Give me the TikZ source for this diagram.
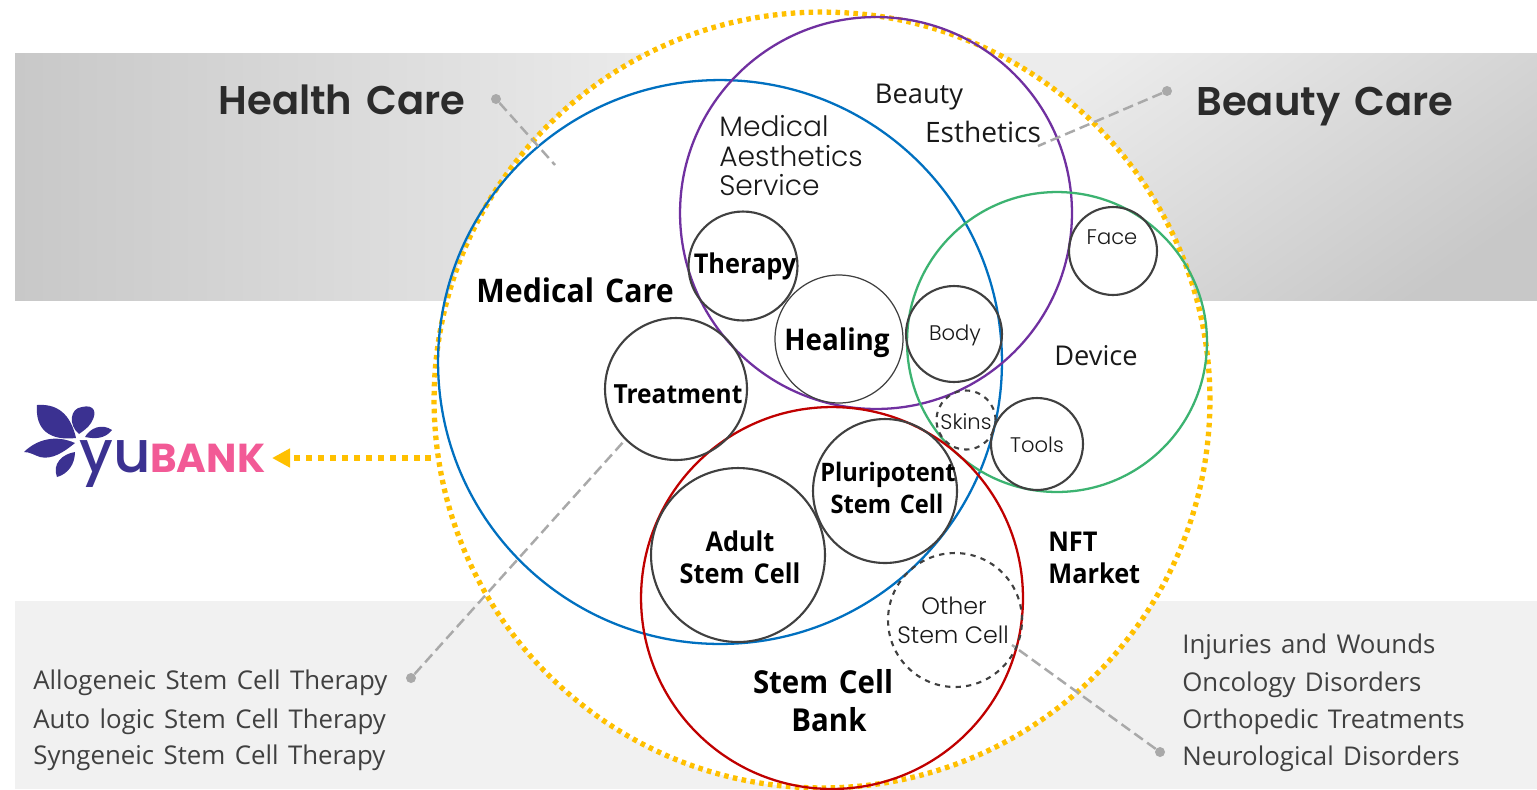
\documentclass[tikz,border=0pt]{standalone}
\usepackage{fontspec}
\usepackage{tikz}
\usetikzlibrary{arrows.meta}
\setmainfont{Open Sans}[WordSpace=1.4,BoldFeatures={FakeStretch=0.93}]
\newfontfamily\gothicfont{Poppins SemiBold}[WordSpace=1.5]
\newfontfamily\gothiclight{Poppins Light}
\newfontfamily\logofont{Poppins Medium}
\newfontfamily\logobold{Poppins}
\definecolor{bandlight}{HTML}{ECECEC}
\definecolor{bandmid}{HTML}{DDDDDD}
\definecolor{banddark}{HTML}{C8C8C8}
\definecolor{bandlow}{HTML}{F1F1F1}
\definecolor{dotgold}{HTML}{FFC000}
\definecolor{careblue}{HTML}{0070C0}
\definecolor{beautypurple}{HTML}{7030A0}
\definecolor{devicegreen}{HTML}{3CB371}
\definecolor{bankred}{HTML}{C00000}
\definecolor{ringgray}{HTML}{404040}
\definecolor{leadgray}{HTML}{A9A9A9}
\definecolor{logopurple}{HTML}{3B3191}
\definecolor{logopink}{HTML}{F25A96}
\tikzset{
    ring/.style={circle,draw=ringgray,line width=1.2pt,inner sep=0pt,outer sep=0pt},
    bigring/.style={ring,line width=1.3pt},
    dashring/.style={ring,dashed},
    leader/.style={draw=leadgray,line width=1.4pt,dash pattern=on 6pt off 3pt},
    leaddot/.style={circle,fill=leadgray,inner sep=0pt,minimum size=0.2cm},
    heading/.style={anchor=base,font=\gothicfont\fontsize{22.8}{24}\selectfont,text=black!83},
    boldlab/.style={anchor=base,font=\bfseries\fontsize{15.5}{16}\selectfont,text=black},
    thinlab/.style={anchor=base,font=\fontsize{15.5}{16}\selectfont,text=black!90},
    gothlab/.style={anchor=base,inner sep=0pt,font=\gothiclight\fontsize{16}{16}\selectfont,text=black!90},
    smallgoth/.style={anchor=base,font=\gothiclight\fontsize{12}{12}\selectfont,text=black!90},
    listlab/.style={anchor=base west,inner sep=0pt,font=\fontsize{14.7}{16}\selectfont,text=black!75},
    petal/.style={fill=logopurple,draw=none}
}
\begin{document}
\begin{tikzpicture}[x=0.02cm,y=-0.02cm]
    \useasboundingbox (0,0) rectangle (1537,789);
    % bands
    \shade[left color=banddark,middle color=bandmid,right color=bandlight] (15,53) rectangle (670,300);
    \shade[left color=bandlight,right color=banddark,shading angle=35] (985,53) rectangle (1537,300);
    \fill[bandlow] (15,601) rectangle (1537,789);
    % circles
    \node[circle,fill=white,draw=dotgold,line width=3pt,dash pattern=on 2.6pt off 2.5pt,inner sep=0pt,minimum size=15.52cm] (outer) at (822,400) {};
    \node[bigring,draw=careblue,minimum size=11.28cm] (medical) at (720,362) {};
    \node[bigring,draw=beautypurple,minimum size=7.84cm] (beauty) at (876,213) {};
    \node[bigring,draw=devicegreen,minimum size=6cm] (device) at (1057,342) {};
    \node[bigring,draw=bankred,minimum size=7.64cm] (bank) at (832,598) {};
    \node[ring,minimum size=2.18cm] (therapy) at (743,266) {};
    \node[ring,line width=0.7pt,minimum size=2.56cm] (healing) at (839,339) {};
    \node[ring,minimum size=1.92cm] (body) at (954,334) {};
    \node[ring,minimum size=2.84cm] (treatment) at (676,389) {};
    \node[dashring,minimum size=1.18cm] (skins) at (966,420) {};
    \node[ring,minimum size=1.84cm] (tools) at (1037,444) {};
    \node[ring,minimum size=1.76cm] (face) at (1113,251) {};
    \node[ring,minimum size=2.88cm] (pluri) at (885,491) {};
    \node[ring,minimum size=3.48cm] (adult) at (738,555) {};
    \node[dashring,minimum size=2.68cm] (other) at (955,620) {};
    % big titles
    \node[heading] (healthT) at (342,114) {Health Care};
    \node[heading] (beautyT) at (1325,115) {Beauty Care};
    % labels
    \node[thinlab] (beautyL) at (919,103) {Beauty};
    \node[thinlab,font=\fontsize{16}{16}\selectfont] (estheL) at (983,142) {Esthetics};
    \node[gothlab,anchor=base west] (medL) at (719,136) {Medical};
    \node[gothlab,anchor=base west] (aesL) at (719,166) {Aesthetics};
    \node[gothlab,anchor=base west] (serL) at (719,195) {Service};
    \node[boldlab,font=\bfseries\fontsize{18.5}{18}\selectfont] (mcareL) at (575,302) {Medical Care};
    \node[boldlab] (therapyL) at (745,273) {Therapy};
    \node[boldlab,font=\bfseries\fontsize{17}{18}\selectfont] (healingL) at (837,350) {Healing};
    \node[boldlab,font=\bfseries\fontsize{15}{16}\selectfont] (treatL) at (678,403) {Treatment};
    \node[smallgoth] (bodyL) at (955,340) {Body};
    \node[smallgoth] (faceL) at (1112,244) {Face};
    \node[smallgoth] (skinsL) at (966,429) {Skins};
    \node[smallgoth] (toolsL) at (1037,452) {Tools};
    \node[thinlab] (deviceL) at (1096,365) {Device};
    \node[boldlab,font=\bfseries\fontsize{14.5}{16}\selectfont] (pluriL) at (888,481) {Pluripotent};
    \node[boldlab,font=\bfseries\fontsize{14.5}{16}\selectfont] (pluriM) at (887,513) {Stem Cell};
    \node[boldlab] (adultL) at (740,551) {Adult};
    \node[boldlab] (adultM) at (740,583) {Stem Cell};
    \node[boldlab,anchor=base west,inner sep=0pt] (nftL) at (1048,551) {NFT};
    \node[boldlab,anchor=base west,inner sep=0pt] (nftM) at (1048,583) {Market};
    \node[gothlab,font=\gothiclight\fontsize{13.5}{14}\selectfont] (otherL) at (954,614) {Other};
    \node[gothlab,font=\gothiclight\fontsize{13.5}{14}\selectfont] (otherM) at (953,643) {Stem Cell};
    \node[boldlab,font=\bfseries\fontsize{18}{18}\selectfont] (scbL) at (823,693) {Stem Cell};
    \node[boldlab,font=\bfseries\fontsize{18}{18}\selectfont] (scbM) at (829,731) {Bank};
    % lists
    \node[listlab] (listA) at (33,689) {Allogeneic Stem Cell Therapy};
    \node[listlab] (listB) at (33,728) {Auto logic Stem Cell Therapy};
    \node[listlab] (listC) at (33,764) {Syngeneic Stem Cell Therapy};
    \node[listlab] (listD) at (1182,653) {Injuries and Wounds};
    \node[listlab] (listE) at (1182,691) {Oncology Disorders};
    \node[listlab] (listF) at (1182,728) {Orthopedic Treatments};
    \node[listlab] (listG) at (1182,765) {Neurological Disorders};
    % leaders
    \node[leaddot] (dotH) at (496,99) {};
    \node[leaddot] (dotB) at (1167,91) {};
    \node[leaddot] (dotT) at (411,678) {};
    \node[leaddot] (dotO) at (1160,752) {};
    \coordinate (endH) at (555,165);
    \coordinate (endB) at (1038,146);
    \coordinate (endT) at (625,440);
    \coordinate (endO) at (1012,645);
    \draw[leader] (dotH) -- (endH);
    \draw[leader] (dotB) -- (endB);
    \draw[leader] (dotT) -- (endT);
    \draw[leader] (dotO) -- (endO);
    % logo
    \fill[petal] (37,405) .. controls (62,403) and (72,420) .. (76,438) .. controls (50,441) and (35,430) .. (37,405) -- cycle;
    \fill[petal] (79,434) .. controls (68,425) and (70,408) .. (82,407) .. controls (94,404) and (98,412) .. (91,423) .. controls (88,428) and (83,431) .. (79,434) -- cycle;
    \fill[petal] (85,437) .. controls (90,428) and (102,423) .. (112,430) .. controls (105,439) and (95,439) .. (85,437) -- cycle;
    \fill[petal] (24,452) .. controls (36,440) and (55,434) .. (75,443) .. controls (64,452) and (52,460) .. (40,457) .. controls (34,455) and (30,452) .. (24,452) -- cycle;
    \fill[petal] (75,452) .. controls (75,464) and (68,474) .. (57,477) .. controls (52,464) and (62,454) .. (75,452) -- cycle;
    \node[anchor=base west,inner sep=0pt,text=logopurple,font=\logofont\fontsize{33}{33}\selectfont] (logoA) at (79,472) {yu};
    \node[anchor=base west,inner sep=0pt,text=logopink,font=\logobold\bfseries\fontsize{23}{23}\selectfont] (logoB) at (150,472) {BANK};
    \coordinate (logoEnd) at (272,458);
    \draw[dotgold,line width=3.4pt,dash pattern=on 3.4pt off 3.4pt,-{Triangle[length=0.36cm,width=0.36cm]}] (outer.west |- logoEnd) -- (logoEnd);
\end{tikzpicture}
\end{document}
